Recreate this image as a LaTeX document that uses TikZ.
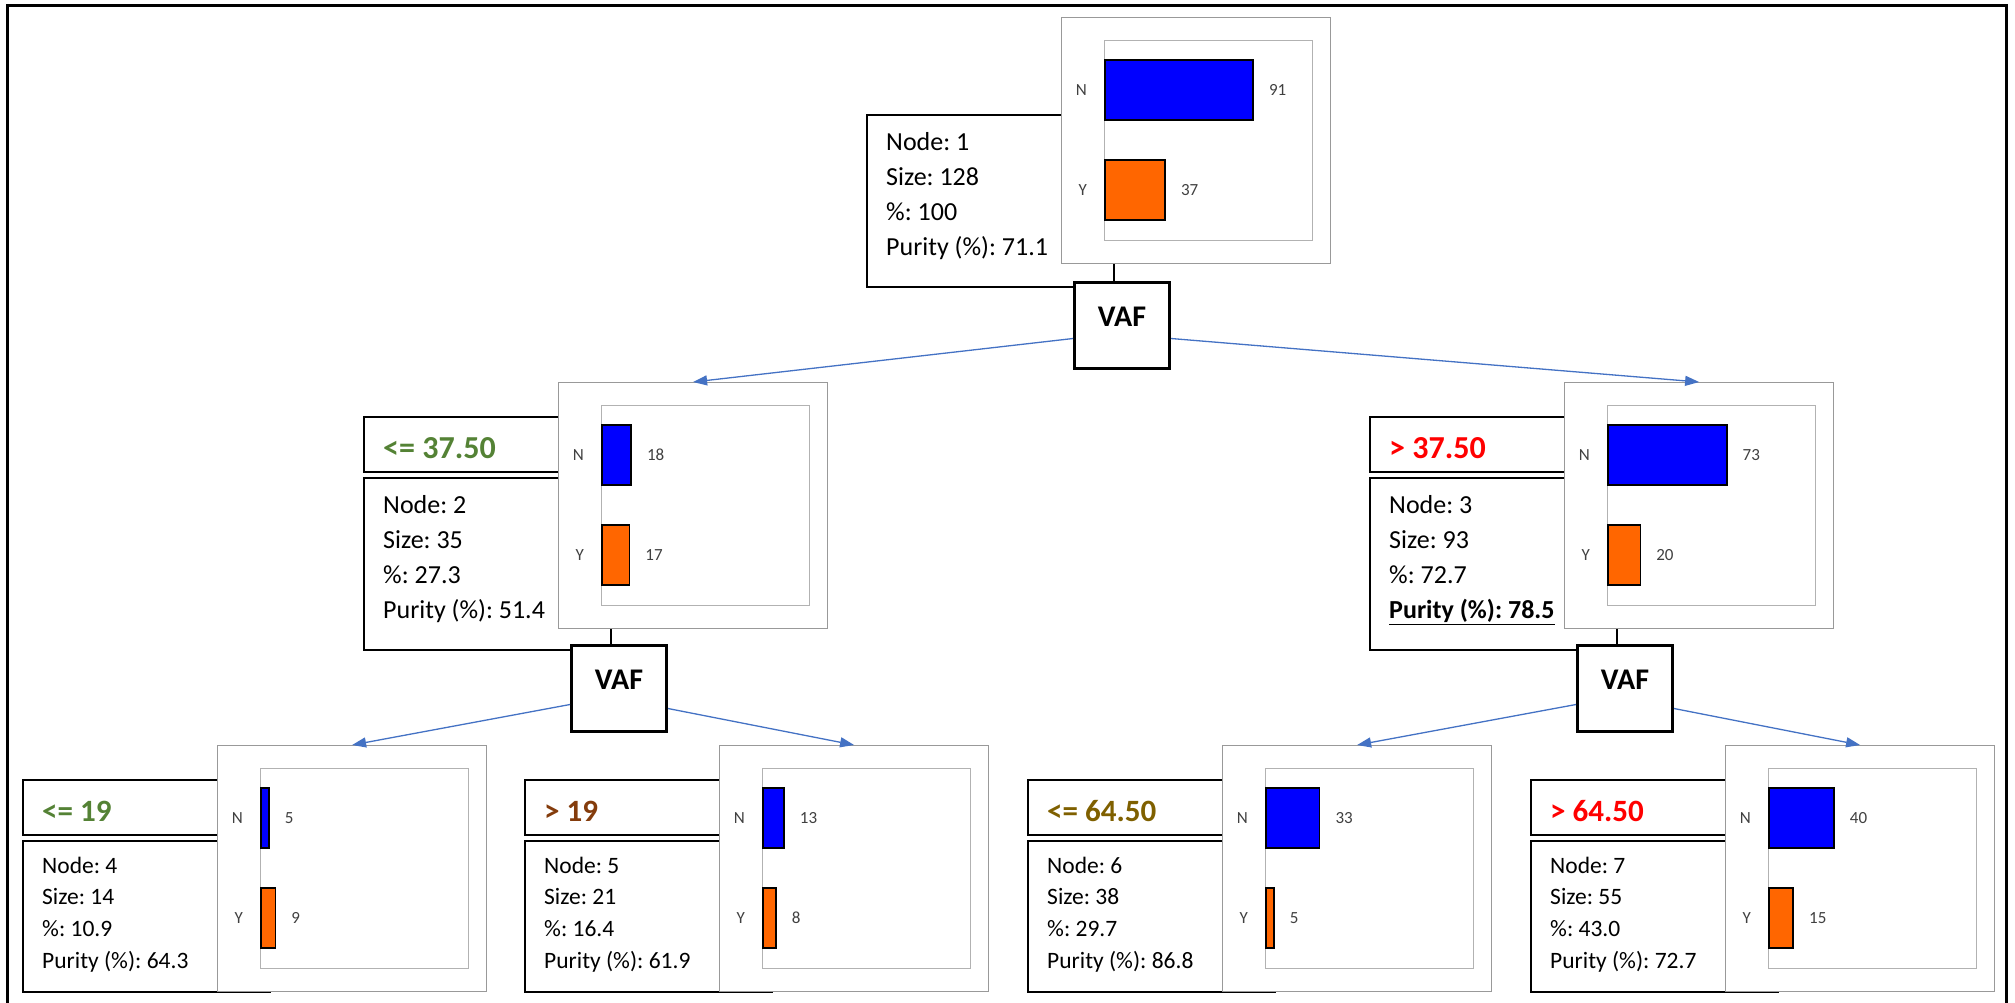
\documentclass[tikz,border=0pt]{standalone}
\usepackage{fontspec}
\setmainfont{Carlito}
\usetikzlibrary{arrows.meta,positioning}
\frenchspacing

\definecolor{barblue}{RGB}{0,0,255}
\definecolor{barorange}{RGB}{255,102,0}
\definecolor{cutgreen}{RGB}{84,130,53}
\definecolor{cutred}{RGB}{255,0,0}
\definecolor{cutbrown}{RGB}{132,60,12}
\definecolor{cutolive}{RGB}{127,96,0}
\definecolor{edgeblue}{RGB}{68,114,196}

% bar chart of one tree node: name, x, y, count N, count Y
\newcommand{\tallychart}[5]{%
  \node[chartbox] (#1) at (#2,#3) {};
  \node[plotframe] (#1p) at ([xshift=43pt,yshift=-23pt]#1.north west) {};
  \node[barn, minimum width=#4*1.63pt] (#1n) at ([yshift=-50pt]#1p.north west) {};
  \node[bary, minimum width=#5*1.63pt] (#1y) at ([yshift=-150pt]#1p.north west) {};
  \node[lbl, left=17pt of #1n] (#1nl) {N};
  \node[lbl, right=15pt of #1n] (#1nv) {#4};
  \node[lbl, left=17pt of #1y] (#1yl) {Y};
  \node[lbl, right=15pt of #1y] (#1yv) {#5};
}

\begin{document}
\begin{tikzpicture}[
  x=1pt, y=-1pt,
  frame/.style={line width=3pt},
  infobox/.style={draw, line width=2pt, anchor=north west, inner sep=0, minimum width=247pt},
  cutbox/.style={infobox, minimum height=55pt},
  stat/.style={anchor=north west, align=left, inner sep=0, font=\fontsize{26}{35}\selectfont},
  statsm/.style={stat, font=\fontsize{23.5}{31.7}\selectfont},
  cuttext/.style={anchor=base west, inner sep=0, font=\bfseries\fontsize{32}{38}\selectfont},
  cuttextsm/.style={cuttext, font=\bfseries\fontsize{31}{37}\selectfont},
  chartbox/.style={draw=black!40, line width=1.2pt, fill=white, anchor=north west, inner sep=0, minimum width=269pt, minimum height=246pt},
  plotframe/.style={draw=black!30, line width=1pt, anchor=north west, inner sep=0, minimum width=208pt, minimum height=200pt},
  barn/.style={draw, line width=1.5pt, fill=barblue, anchor=west, inner sep=0, minimum height=60pt},
  bary/.style={barn, fill=barorange},
  lbl/.style={inner sep=0, text=black!75, font=\fontsize{17}{20}\selectfont},
  splitbox/.style={draw, line width=3pt, fill=white, anchor=north west, inner sep=0, minimum width=95pt, minimum height=86pt, text depth=18pt, font=\bfseries\fontsize{30}{36}\selectfont},
  arr/.style={draw=edgeblue, line width=1.3pt, -{Triangle[length=14pt, width=10pt]}},
]
\useasboundingbox (0,0) rectangle (2015,1002);
\draw[frame] (7.5,1012) -- (7.5,5) -- (2006,5) -- (2006,1012);

% root
\node[infobox, minimum height=172pt] (info1) at (866,114) {};
\node[stat] (stat1) at ([xshift=20pt,yshift=-18pt]info1.north west) {Node: 1\\Size: 128\\\%: 100\\Purity (\%): 71.1};
\tallychart{c1}{1061}{17}{91}{37}
\node[splitbox] (v1) at (1073,281) {VAF};

% second level
\node[cutbox] (cut2) at (363,416) {};
\node[cuttext, text=cutgreen] (cutl2) at ([xshift=20pt,yshift=-42pt]cut2.north west) {<= 37.50};
\node[infobox, minimum height=172pt] (info2) at (363,477) {};
\node[stat] (stat2) at ([xshift=20pt,yshift=-18pt]info2.north west) {Node: 2\\Size: 35\\\%: 27.3\\Purity (\%): 51.4};
\tallychart{c2}{558}{382}{18}{17}
\node[splitbox] (v2) at (570,644) {VAF};

\node[cutbox] (cut3) at (1369,416) {};
\node[cuttext, text=cutred] (cutl3) at ([xshift=20pt,yshift=-42pt]cut3.north west) {> 37.50};
\node[infobox, minimum height=172pt] (info3) at (1369,477) {};
\node[stat] (stat3) at ([xshift=20pt,yshift=-18pt]info3.north west) {Node: 3\\Size: 93\\\%: 72.7\\\textbf{\underline{Purity (\%): 78.5}}};
\tallychart{c3}{1564}{382}{73}{20}
\node[splitbox] (v3) at (1576,644) {VAF};

% leaves
\node[cutbox] (cut4) at (22,779) {};
\node[cuttextsm, text=cutgreen] (cutl4) at ([xshift=20pt,yshift=-42pt]cut4.north west) {<= 19};
\node[infobox, minimum height=151pt] (info4) at (22,840) {};
\node[statsm] (stat4) at ([xshift=20pt,yshift=-16.5pt]info4.north west) {Node: 4\\Size: 14\\\%: 10.9\\Purity (\%): 64.3};
\tallychart{c4}{217}{745}{5}{9}

\node[cutbox] (cut5) at (524,779) {};
\node[cuttextsm, text=cutbrown] (cutl5) at ([xshift=20pt,yshift=-42pt]cut5.north west) {> 19};
\node[infobox, minimum height=151pt] (info5) at (524,840) {};
\node[statsm] (stat5) at ([xshift=20pt,yshift=-16.5pt]info5.north west) {Node: 5\\Size: 21\\\%: 16.4\\Purity (\%): 61.9};
\tallychart{c5}{719}{745}{13}{8}

\node[cutbox] (cut6) at (1027,779) {};
\node[cuttextsm, text=cutolive] (cutl6) at ([xshift=20pt,yshift=-42pt]cut6.north west) {<= 64.50};
\node[infobox, minimum height=151pt] (info6) at (1027,840) {};
\node[statsm] (stat6) at ([xshift=20pt,yshift=-16.5pt]info6.north west) {Node: 6\\Size: 38\\\%: 29.7\\Purity (\%): 86.8};
\tallychart{c6}{1222}{745}{33}{5}

\node[cutbox] (cut7) at (1530,779) {};
\node[cuttextsm, text=cutred] (cutl7) at ([xshift=20pt,yshift=-42pt]cut7.north west) {> 64.50};
\node[infobox, minimum height=151pt] (info7) at (1530,840) {};
\node[statsm] (stat7) at ([xshift=20pt,yshift=-16.5pt]info7.north west) {Node: 7\\Size: 55\\\%: 43.0\\Purity (\%): 72.7};
\tallychart{c7}{1725}{745}{40}{15}

% splits
\draw[arr] ([yshift=-13pt]v1.west) -- (c2.north);
\draw[arr] ([yshift=-13pt]v1.east) -- (c3.north);
\draw[arr] ([yshift=-16pt]v2.west) -- (c4.north);
\draw[arr] ([yshift=-20pt]v2.east) -- (c5.north);
\draw[arr] ([yshift=-16pt]v3.west) -- (c6.north);
\draw[arr] ([yshift=-20pt]v3.east) -- (c7.north);
\end{tikzpicture}
\end{document}
